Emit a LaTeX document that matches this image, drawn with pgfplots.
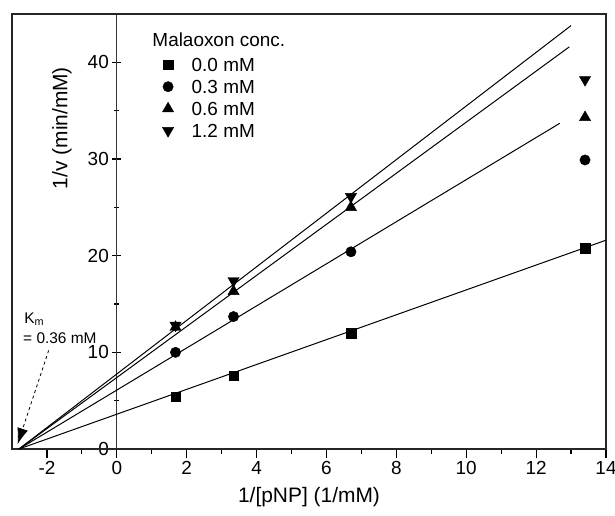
\documentclass[border=0pt]{standalone}
\usepackage{fontspec}
\setmainfont{Liberation Sans}
\usepackage{pgfplots}
\pgfplotsset{compat=1.18}
\usetikzlibrary{arrows.meta}

% Lineweaver-Burk plot, malaoxon inhibition
\begin{document}
\begin{tikzpicture}
\useasboundingbox (-12bp,-67bp) rectangle (603bp,449bp);
\begin{axis}[
  at={(0,0)}, anchor=south west,
  scale only axis, width=594bp, height=435bp,
  xmin=-3, xmax=14, ymin=0, ymax=45,
  axis x line=bottom, axis y line=center,
  x axis line style={-, line width=1.2bp},
  y axis line style={-, line width=1.2bp, black!80},
  xtick={-2,0,...,14}, ytick={0,10,...,40},
  minor x tick num=1, minor y tick num=1,
  xtick align=outside, ytick align=center,
  major tick length=9bp, minor tick length=5bp,
  every tick/.style={black, line width=1.2bp},
  hide obscured x ticks=false, hide obscured y ticks=false,
  /pgf/number format/assume math mode=true,
  tick label style={font=\fontsize{19}{21}\selectfont},
  xlabel={1/[pNP] (1/mM)},
  xlabel style={font=\fontsize{21}{23}\selectfont, at={(rel axis cs:0.5,0)}, anchor=north, yshift=-35bp},
  legend style={at={(axis cs:1.30,40.5)}, anchor=north west, draw=none, fill=none,
    font=\fontsize{19}{21}\selectfont, row sep=8bp, inner sep=0pt,
    nodes={text height=14bp, text depth=0bp, inner sep=0pt},
    /tikz/every odd column/.append style={column sep=18bp}},
  legend cell align=left,
  clip=false,
]
\draw[line width=1.2bp, black!85] (rel axis cs:0,0) rectangle (rel axis cs:1,1);

\addplot[only marks, mark=square*, mark size=4.8bp, black] coordinates {
  (1.68,5.4) (3.34,7.6) (6.70,12.0) (13.40,20.8)
};
\addlegendentry{0.0 mM}
\addplot[only marks, mark=*, mark size=5.2bp, black] coordinates {
  (1.68,10.0) (3.34,13.7) (6.70,20.4) (13.40,29.9)
};
\addlegendentry{0.3 mM}
\addplot[only marks, mark=triangle*, mark size=6.5bp, black] coordinates {
  (1.68,12.6) (3.34,16.3) (6.70,25.0) (13.40,34.3)
};
\addlegendentry{0.6 mM}
\addplot[only marks, mark=triangle*, mark size=6.5bp, black, mark options={rotate=180}] coordinates {
  (1.68,12.8) (3.34,17.4) (6.70,26.1) (13.40,38.2)
};
\addlegendentry{1.2 mM}

% fitted lines
\addplot[black, line width=1bp, forget plot] coordinates {(-2.8,0) (14,21.6)};
\addplot[black, line width=1bp, forget plot] coordinates {(-2.8,0) (12.68,33.7)};
\addplot[black, line width=1bp, forget plot] coordinates {(-2.8,0) (12.95,41.6)};
\addplot[black, line width=1bp, forget plot] coordinates {(-2.8,0) (13.0,43.8)};

\node[anchor=west, font=\fontsize{19}{21}\selectfont] at (axis cs:0.92,42.3) {Malaoxon conc.};
\node[rotate=90, font=\fontsize{21}{23}\selectfont] at (axis cs:-1.57,33.2) {1/v (min/mM)};
\node[anchor=west, font=\fontsize{15.5}{17}\selectfont] at (axis cs:-2.75,13.4) {K\textsubscript{m}};
\node[anchor=west, font=\fontsize{15.5}{17}\selectfont] at (axis cs:-2.78,11.5) {= 0.36 mM};
\draw[dashed, line width=0.8bp, -{Latex[length=16bp, width=11bp]}] (axis cs:-1.95,10.2) -- (axis cs:-2.84,0.5);
\end{axis}
\end{tikzpicture}
\end{document}
